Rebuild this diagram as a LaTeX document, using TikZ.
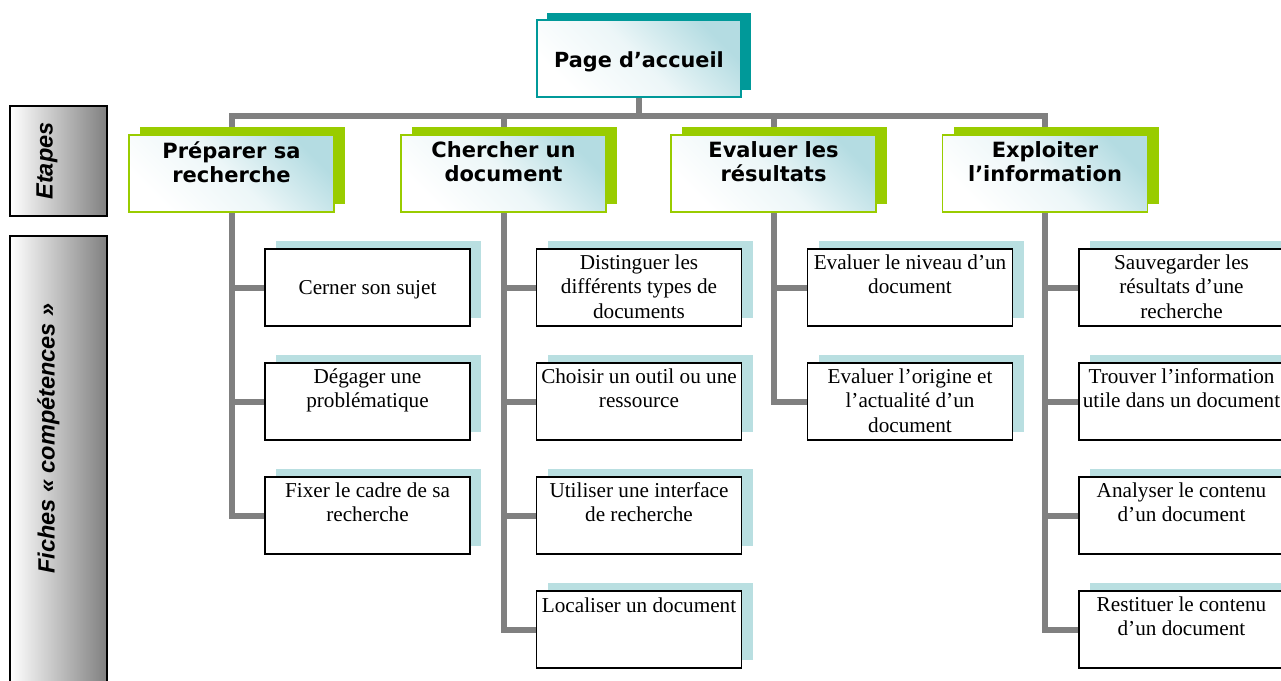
\documentclass[tikz,border=0pt]{standalone}
\usepackage{fontspec}
\setmainfont{Liberation Serif}
\newfontfamily\verdfont{DejaVu Sans}
\newfontfamily\arialfont{Liberation Sans}
\usetikzlibrary{shadows}
\definecolor{conngray}{HTML}{808080}
\definecolor{limegr}{HTML}{99CC00}
\definecolor{dteal}{HTML}{009999}
\definecolor{lteal}{HTML}{B4DCE2}
\definecolor{shteal}{HTML}{B9DFE1}
\begin{document}
\begin{tikzpicture}[x=1pt,y=-1pt,
  conn/.style={draw=conngray, line width=6pt},
  gradbox/.style={rectangle, inner sep=0, minimum width=204pt, minimum height=77pt,
    line width=1.5pt, top color=lteal, bottom color=white, middle color=white!75!lteal, shading angle=-45},
  topbox/.style={gradbox, draw=dteal, copy shadow={shadow xshift=10pt, shadow yshift=7.5pt, fill=dteal, draw=none}},
  stepbox/.style={gradbox, draw=limegr, copy shadow={shadow xshift=11pt, shadow yshift=8pt, fill=limegr, draw=none}},
  childbox/.style={rectangle, inner sep=0, minimum width=205pt, minimum height=77pt,
    draw=black, line width=1.3pt, fill=white, copy shadow={shadow xshift=11pt, shadow yshift=8pt, fill=shteal, draw=none}},
  steptext/.style={font=\verdfont\bfseries\fontsize{21}{24}\selectfont, align=center, anchor=north, inner sep=0,
    execute at begin node={\rule{0pt}{17pt}}},
  childtext/.style={font=\fontsize{21.2}{24.6}\selectfont, align=center, anchor=north, inner sep=0,
    execute at begin node={\rule{0pt}{16pt}}},
  ghost/.style={rectangle, minimum width=205pt, minimum height=77pt, inner sep=0},
  sidebox/.style={rectangle, inner sep=0, minimum width=97pt, draw=black, line width=1.5pt, left color=white, right color=conngray},
  sidetext/.style={font=\arialfont\bfseries\itshape\fontsize{23.5}{28}\selectfont, rotate=90, anchor=base, inner sep=0}
]
\useasboundingbox (0,0) rectangle (1281,680);
\clip (0,0) rectangle (1281,680);

% ---- side panels
\node[sidebox, minimum height=110pt] (etapes) at (58.5,161) {};
\node[sidebox, minimum height=454pt] (fiches) at (58.5,463) {};
\node[sidetext] (etapesT) at (52.5,161) {Etapes};
\node[sidetext] (fichesT) at (54.5,438.5) {Fiches « compétences »};

% ---- placement nodes (invisible), so connectors can be drawn behind the boxes
\node[ghost, minimum width=204pt] (top) at (639,58.5) {};
\node[ghost] (s1) at (231.5,173.5) {};
\node[ghost] (s2) at (503.5,173.5) {};
\node[ghost] (s3) at (773.5,173.5) {};
\node[ghost] (s4) at (1045,173.5) {};
\foreach \n/\x in {c1/367.5, c2/639, c3/910, c4/1181.5}{
  \foreach \r/\y in {1/287.5, 2/401.5, 3/515.5, 4/629.5}{
    \node[ghost] (\n\r) at (\x,\y) {};
  }
}

% ---- connectors
\foreach \s in {s1,s2,s3,s4}{ \draw[conn] (top.south) -- ++(0,19) -| (\s.north); }
\foreach \c in {c11,c12,c13}{ \draw[conn] (s1.south) |- (\c.west); }
\foreach \c in {c21,c22,c23,c24}{ \draw[conn] (s2.south) |- (\c.west); }
\foreach \c in {c31,c32}{ \draw[conn] (s3.south) |- (\c.west); }
\foreach \c in {c41,c42,c43,c44}{ \draw[conn] (s4.south) |- (\c.west); }

% ---- boxes
\node[topbox] (topB) at (top.center) {};
\node[font=\verdfont\bfseries\fontsize{20.8}{24}\selectfont, anchor=base, inner sep=0] (topT) at (639,67.3) {Page d’accueil};

\foreach \s in {s1,s2,s3,s4}{ \node[stepbox, minimum width=205pt] (\s B) at (\s.center) {}; }
\node[steptext] (s1T) at ([yshift=-7pt]s1.north) {Préparer sa\\recherche};
\node[steptext] (s2T) at ([yshift=-7pt]s2.north) {Chercher un\\document};
\node[steptext] (s3T) at ([yshift=-7pt]s3.north) {Evaluer les\\résultats};
\node[steptext] (s4T) at ([yshift=-7pt]s4.north) {Exploiter\\l’information};

\foreach \c in {c11,c12,c13,c21,c22,c23,c24,c31,c32,c41,c42,c43,c44}{ \node[childbox] (\c B) at (\c.center) {}; }

\node[childtext] (c11T) at ([yshift=-29.9pt]c11.north) {Cerner son sujet};
\node[childtext] (c12T) at ([yshift=-5.4pt]c12.north) {Dégager une\\problématique};
\node[childtext] (c13T) at ([yshift=-5.4pt]c13.north) {Fixer le cadre de sa\\recherche};

\node[childtext] (c21T) at ([yshift=-5.4pt]c21.north) {Distinguer les\\différents types de\\documents};
\node[childtext] (c22T) at ([yshift=-5.4pt]c22.north) {Choisir un outil ou une\\ressource};
\node[childtext] (c23T) at ([yshift=-5.4pt]c23.north) {Utiliser une interface\\de recherche};
\node[childtext] (c24T) at ([yshift=-5.4pt]c24.north) {Localiser un document};

\node[childtext] (c31T) at ([yshift=-5.4pt]c31.north) {Evaluer le niveau d’un\\document};
\node[childtext] (c32T) at ([yshift=-5.4pt]c32.north) {Evaluer l’origine et\\l’actualité d’un\\document};

\node[childtext] (c41T) at ([yshift=-5.4pt]c41.north) {Sauvegarder les\\résultats d’une\\recherche};
\node[childtext] (c42T) at ([yshift=-5.4pt]c42.north) {Trouver l’information\\utile dans un document};
\node[childtext] (c43T) at ([yshift=-5.4pt]c43.north) {Analyser le contenu\\d’un document};
\node[childtext] (c44T) at ([yshift=-5.4pt]c44.north) {Restituer le contenu\\d’un document};
\end{tikzpicture}
\end{document}
